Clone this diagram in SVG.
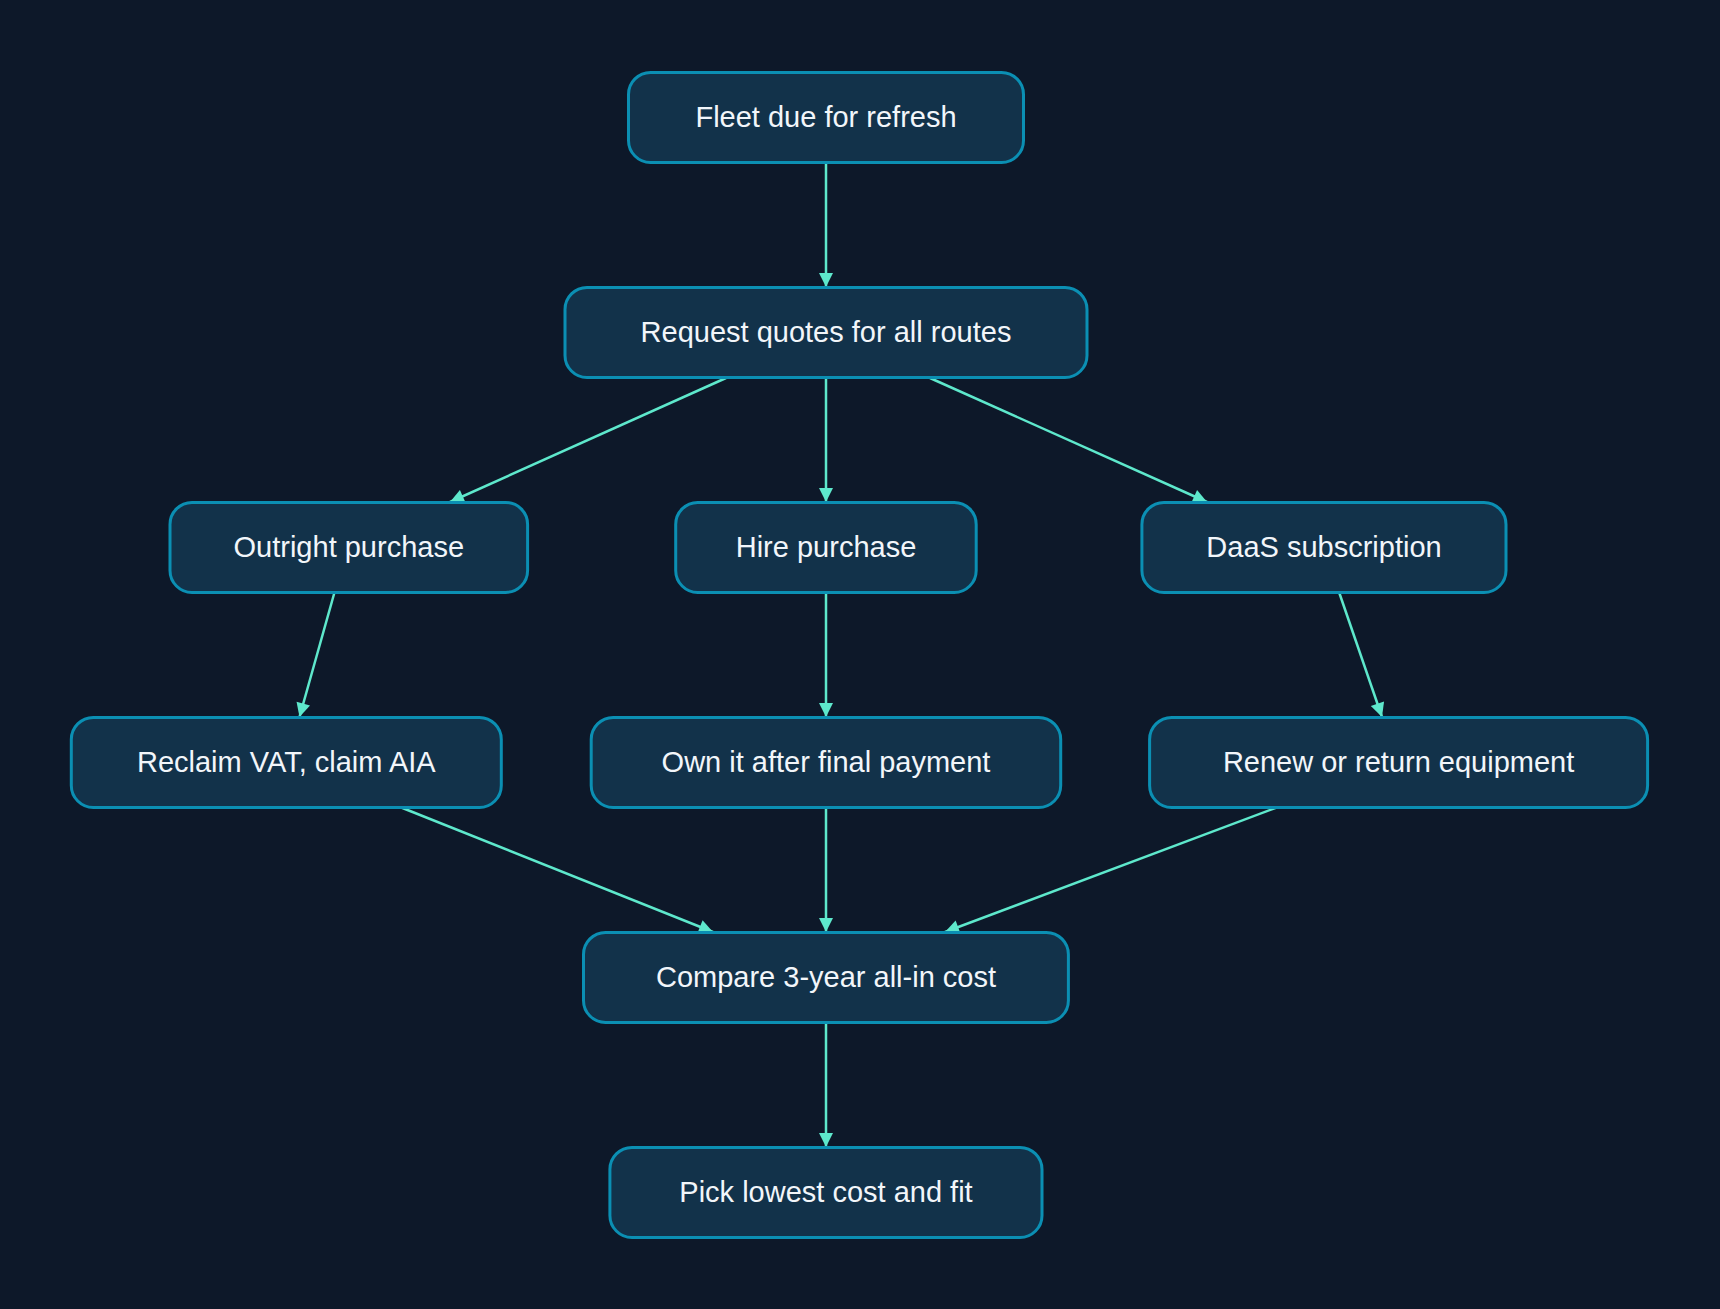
<svg xmlns="http://www.w3.org/2000/svg" width="1720" height="1309" viewBox="0 0 1720 1309">
<style>
.n rect{fill:#12324a;stroke:#0b8fb3;stroke-width:3}
.n text{fill:#f2f6fa;font-family:"Liberation Sans",Arial,sans-serif;font-size:29px;text-anchor:middle;dominant-baseline:central}
.e line{stroke:#5ee8cc;stroke-width:2.5;marker-end:url(#a)}
</style>
<defs><marker id="a" viewBox="0 0 10 10" refX="10" refY="5" markerWidth="7" markerHeight="7" markerUnits="userSpaceOnUse" orient="auto" style="overflow:visible"><path d="M0,0 L10,5 L0,10 z" fill="#5ee8cc" transform="scale(2)translate(-5,-2.5)"/></marker></defs>
<rect width="1720" height="1309" fill="#0d1829"/>
<g class="e">
<line x1="826" y1="162" x2="826" y2="287"/>
<line x1="726" y1="378" x2="450" y2="502"/>
<line x1="826" y1="378" x2="826" y2="502"/>
<line x1="930" y1="378" x2="1207" y2="502"/>
<line x1="334.6" y1="592" x2="299.5" y2="717"/>
<line x1="826" y1="592" x2="826" y2="717"/>
<line x1="1339" y1="592" x2="1382" y2="717"/>
<line x1="400" y1="807" x2="713" y2="932"/>
<line x1="826" y1="807" x2="826" y2="932"/>
<line x1="1278" y1="807" x2="945" y2="932"/>
<line x1="826" y1="1022" x2="826" y2="1147"/>
</g>
<g class="n" id="fleet"><rect x="628.5" y="72.4" width="395" height="90" rx="22"/><text x="826" y="117.4">Fleet due for refresh</text></g>
<g class="n" id="request"><rect x="565" y="287.4" width="522" height="90" rx="22"/><text x="826" y="332.4">Request quotes for all routes</text></g>
<g class="n" id="outright"><rect x="170" y="502.4" width="357.6" height="90" rx="22"/><text x="348.8" y="547.4">Outright purchase</text></g>
<g class="n" id="hire"><rect x="675.7" y="502.4" width="300.5" height="90" rx="22"/><text x="826" y="547.4">Hire purchase</text></g>
<g class="n" id="daas"><rect x="1141.9" y="502.4" width="364.1" height="90" rx="22"/><text x="1324" y="547.4">DaaS subscription</text></g>
<g class="n" id="reclaim"><rect x="71.3" y="717.4" width="430" height="90" rx="22"/><text x="286.3" y="762.4">Reclaim VAT, claim AIA</text></g>
<g class="n" id="own"><rect x="591.2" y="717.4" width="469.5" height="90" rx="22"/><text x="826" y="762.4">Own it after final payment</text></g>
<g class="n" id="renew"><rect x="1149.6" y="717.4" width="498" height="90" rx="22"/><text x="1398.6" y="762.4">Renew or return equipment</text></g>
<g class="n" id="compare"><rect x="583.5" y="932.4" width="484.9" height="90" rx="22"/><text x="826" y="977.4">Compare 3-year all-in cost</text></g>
<g class="n" id="pick"><rect x="609.9" y="1147.4" width="432.1" height="90" rx="22"/><text x="826" y="1192.4">Pick lowest cost and fit</text></g>
</svg>
